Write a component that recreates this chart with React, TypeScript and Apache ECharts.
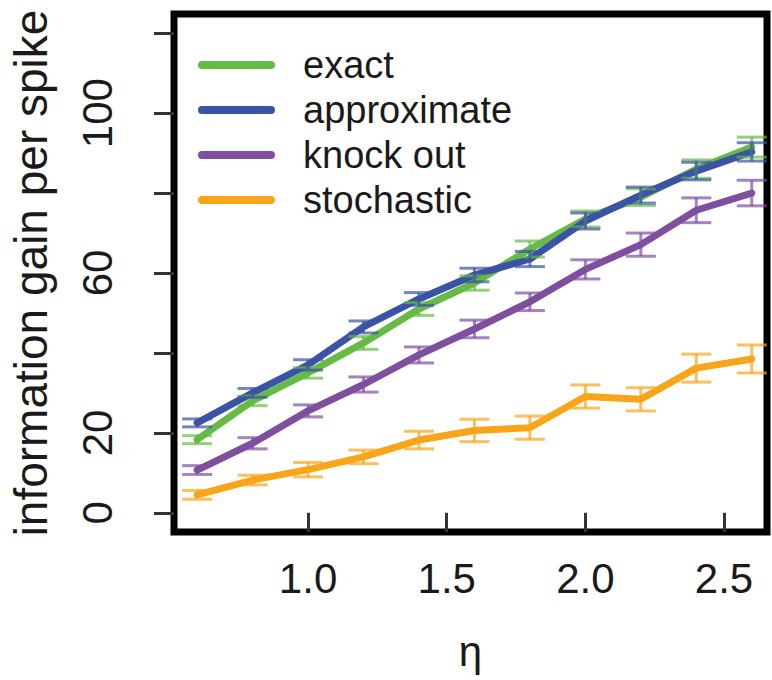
import React, { useEffect, useRef } from "react";
import * as echarts from "echarts";

const etaValues = [0.6, 0.8, 1.0, 1.2, 1.4, 1.6, 1.8, 2.0, 2.2, 2.4, 2.6];
const exactValues = [18.3, 28, 35, 42.5, 51, 57.5, 66, 73.5, 79, 86, 91.5];
const approximateValues = [22.5, 30, 37, 46.5, 53.5, 59.5, 63.5, 73, 79.5, 85.5, 90.3];
const knockOutValues = [10.7, 17.4, 25.5, 32.1, 39.5, 46, 52.8, 60.9, 67.1, 75.7, 80];
const stochasticValues = [4.5, 8.2, 10.8, 14, 18.2, 20.6, 21.3, 29.1, 28.4, 36.2, 38.5];

const exactErr = [1.0, 1.2, 1.3, 1.6, 1.6, 1.8, 2.0, 2.0, 2.1, 2.3, 2.5];
const approximateErr = [1.0, 1.1, 1.3, 1.5, 1.6, 1.7, 1.9, 2.0, 2.0, 2.2, 2.3];
const knockOutErr = [1.1, 1.4, 1.5, 1.9, 2.0, 2.2, 2.2, 2.4, 2.9, 3.1, 3.2];
const stochasticErr = [1.1, 1.2, 1.8, 1.7, 2.2, 2.8, 2.9, 2.9, 2.9, 3.5, 3.5];

const xTickValues = [1.0, 1.5, 2.0, 2.5];
const yTickValues = [0, 20, 40, 60, 80, 100, 120];
const yLabelValues = [0, 20, 60, 100];

const seriesNames = ["exact", "approximate", "knock out", "stochastic"];
const seriesColors = ["#66bb46", "#3a53a4", "#7f4f9f", "#f9a51b"];

const FONT = "'Liberation Sans', Arial, Helvetica, sans-serif";

export default function App() {
  const ref = useRef<HTMLDivElement>(null);

  useEffect(() => {
    if (!ref.current) return;
    const chart = echarts.init(ref.current, null, { renderer: "svg" });
    const values = [exactValues, approximateValues, knockOutValues, stochasticValues];
    const errs = [exactErr, approximateErr, knockOutErr, stochasticErr];

    const lineSeries = values.map((vals, i) => ({
      name: seriesNames[i],
      type: "line",
      data: etaValues.map((x, j) => [x, vals[j]]),
      showSymbol: false,
      symbol: "none",
      lineStyle: { color: seriesColors[i], width: 7, cap: "round", join: "round" },
      itemStyle: { color: seriesColors[i] },
      z: 2 + i,
      silent: true,
    }));

    const errSeries = values.map((vals, i) => ({
      name: seriesNames[i] + " err",
      type: "custom",
      data: etaValues.map((x, j) => [x, vals[j] - errs[i][j], vals[j] + errs[i][j]]),
      encode: { x: 0, y: [1, 2] },
      z: 10 + i,
      silent: true,
      renderItem: (params: any, api: any) => {
        const x = api.value(0);
        const lo = api.coord([x, api.value(1)]);
        const hi = api.coord([x, api.value(2)]);
        const hw = 15;
        const style = { stroke: seriesColors[i], lineWidth: 3, opacity: 0.7 };
        return {
          type: "group",
          children: [
            { type: "line", shape: { x1: lo[0], y1: lo[1], x2: hi[0], y2: hi[1] }, style },
            { type: "line", shape: { x1: lo[0] - hw, y1: lo[1], x2: lo[0] + hw, y2: lo[1] }, style },
            { type: "line", shape: { x1: hi[0] - hw, y1: hi[1], x2: hi[0] + hw, y2: hi[1] }, style },
          ],
        };
      },
    }));

    chart.setOption({
      animation: false,
      backgroundColor: "#ffffff",
      grid: {
        left: 165,
        right: 5,
        top: 14,
        bottom: 148,
        show: true,
        borderColor: "#000000",
        borderWidth: 7,
        backgroundColor: "transparent",
      },
      legend: {
        show: true,
        orient: "vertical",
        left: 193,
        top: 40,
        itemWidth: 77,
        itemHeight: 8,
        itemGap: 5,
        icon: "path://M4,0 L73,0 A4,4 0 0 1 73,8 L4,8 A4,4 0 0 1 4,0 Z",
        data: seriesNames,
        textStyle: {
          fontFamily: FONT,
          fontSize: 38,
          color: "#1a1a1a",
          lineHeight: 40,
          padding: [0, 0, 0, 23],
        },
        selectedMode: false,
      },
      xAxis: {
        type: "value",
        min: 0.5166,
        max: 2.655,
        name: "η",
        nameLocation: "middle",
        nameGap: 98,
        nameTextStyle: { fontFamily: FONT, fontSize: 42, color: "#1a1a1a" },
        axisLine: { show: false },
        splitLine: { show: false },
        axisTick: {
          show: true,
          customValues: xTickValues,
          length: 19,
          lineStyle: { color: "#333", width: 3 },
        },
        axisLabel: {
          customValues: xTickValues,
          margin: 25,
          fontFamily: FONT,
          fontSize: 42,
          color: "#1a1a1a",
          formatter: (v: number) => v.toFixed(1),
        },
      },
      yAxis: {
        type: "value",
        min: -4.8,
        max: 124.8,
        name: "information gain per spike",
        nameLocation: "middle",
        nameRotate: 90,
        nameGap: 120,
        nameTextStyle: { fontFamily: FONT, fontSize: 46, color: "#1a1a1a" },
        axisLine: { show: false },
        splitLine: { show: false },
        axisTick: {
          show: true,
          customValues: yTickValues,
          length: 20,
          lineStyle: { color: "#333", width: 3 },
        },
        axisLabel: {
          customValues: yLabelValues,
          rotate: 90,
          margin: 56,
          fontFamily: FONT,
          fontSize: 42,
          color: "#1a1a1a",
          formatter: (v: number) => String(Math.round(v)),
        },
      },
      series: [...lineSeries, ...errSeries],
    });

    return () => chart.dispose();
  }, []);

  return (
    <div
      ref={ref}
      style={{ position: "fixed", left: 0, top: 0, width: 772, height: 680, background: "#fff" }}
    />
  );
}
